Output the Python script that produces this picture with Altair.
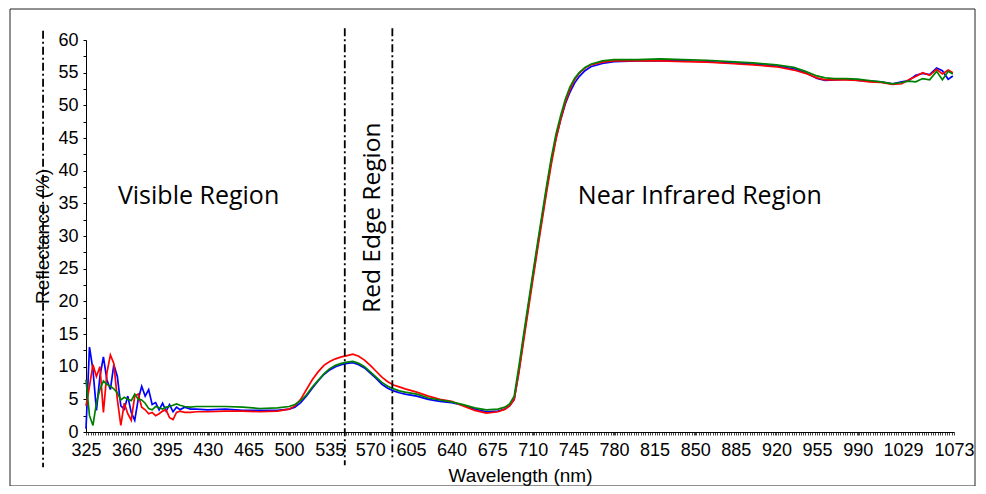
import altair as alt
import pandas as pd

# ---- data ----
wavelength = [325, 328, 331, 334, 337, 340, 343, 346, 349, 352, 355, 358, 361, 364, 367, 370,
              373, 376, 379, 382, 385, 388, 391, 394, 397, 400, 403, 406, 410, 415, 420,
              430, 445, 460, 475, 490, 500,
              505, 510, 515, 520, 525, 530, 535, 540, 545, 550, 555, 560, 565, 570, 575, 580, 585, 590, 595, 600,
              610, 620, 630, 640, 650, 660, 670, 680,
              686, 690, 694, 698, 702, 706, 710, 714, 718, 722, 726, 730, 734, 738, 742, 746, 750,
              755, 760, 770, 780,
              800, 820, 840, 860, 880, 900, 920,
              935, 945, 955, 962, 970, 980, 990,
              1000, 1010, 1020,
              1028, 1034, 1040, 1046, 1052, 1058, 1063, 1068, 1072]

blue = [0.5, 13.0, 9.5, 3.3, 8.5, 11.5, 8.0, 6.5, 10.3, 8.5, 4.0, 3.5, 5.5, 3.0, 1.8, 5.0,
        7.0, 5.5, 6.5, 4.2, 4.5, 3.4, 4.4, 3.2, 4.2, 3.1, 3.8, 3.4, 3.8, 3.5, 3.5,
        3.4, 3.5, 3.3, 3.3, 3.3, 3.5,
        3.8, 4.5, 5.5, 6.7, 7.8, 8.8, 9.5, 10.0, 10.3, 10.5, 10.6, 10.3, 9.8, 9.0, 8.2, 7.3, 6.7, 6.3, 6.0, 5.8,
        5.5, 5.0, 4.7, 4.5, 4.1, 3.5, 3.1, 3.2,
        3.5, 4.0, 5.0, 9.3, 14.2, 19.0, 23.7, 28.3, 32.8, 37.3, 41.5, 45.0, 47.8, 50.2, 52.0, 53.4, 54.4,
        55.3, 55.9, 56.4, 56.7,
        56.8, 56.8, 56.8, 56.7, 56.5, 56.3, 56.0,
        55.6, 55.0, 54.1, 53.8, 53.9, 54.0, 53.8,
        53.7, 53.6, 53.3,
        53.6, 53.8, 54.6, 54.9, 54.7, 55.7, 55.3, 54.0, 54.5]

red = [4.0, 7.0, 10.3, 8.5, 10.0, 3.0, 9.0, 11.8, 10.5, 5.0, 1.0, 4.4, 2.8, 1.8, 5.5, 5.8,
       3.8, 3.4, 2.8, 3.0, 2.5, 2.8, 3.2, 3.4, 2.2, 1.9, 3.0, 3.2, 3.0, 3.0, 3.1,
       3.1, 3.2, 3.2, 3.1, 3.2, 3.5,
       4.0, 5.0, 6.5, 8.0, 9.2, 10.2, 10.8, 11.2, 11.5, 11.7, 11.9, 11.6, 11.0, 10.2, 9.3, 8.4, 7.7, 7.2, 6.9, 6.6,
       6.1, 5.5, 5.0, 4.7, 4.0, 3.3, 2.9, 3.1,
       3.5, 4.0, 5.0, 9.0, 13.8, 18.5, 23.2, 27.8, 32.3, 36.8, 41.0, 44.8, 47.8, 50.4, 52.4, 53.9, 54.9,
       55.7, 56.2, 56.6, 56.8,
       56.8, 56.8, 56.7, 56.6, 56.4, 56.2, 55.9,
       55.4, 54.9, 54.2, 53.9, 53.9, 53.9, 53.8,
       53.6, 53.5, 53.2,
       53.3, 53.9, 54.4, 55.0, 54.6, 55.5, 54.8, 55.4, 55.0]

green = [8.0, 2.5, 1.0, 4.5, 6.5, 7.8, 7.3, 7.0, 6.6, 6.0, 4.9, 5.3, 5.0, 4.8, 5.8, 5.0,
         4.9, 4.4, 3.6, 3.4, 3.9, 3.7, 3.5, 3.8, 3.9, 4.1, 4.3, 4.1, 3.9, 3.8, 3.9,
         3.9, 3.9, 3.8, 3.6, 3.7, 3.9,
         4.2, 4.8, 5.7, 6.9, 7.9, 8.9, 9.7, 10.2, 10.5, 10.7, 10.8, 10.5, 10.0, 9.2, 8.4, 7.6, 7.0, 6.6, 6.3, 6.1,
         5.8, 5.2, 4.9, 4.6, 4.2, 3.7, 3.4, 3.5,
         3.8, 4.3, 5.5, 10.0, 14.8, 19.5, 24.2, 28.8, 33.3, 37.8, 42.0, 45.6, 48.4, 50.9, 52.8, 54.1, 55.0,
         55.8, 56.3, 56.8, 57.0,
         57.0, 57.1, 57.0, 56.9, 56.7, 56.5, 56.2,
         55.8, 55.2, 54.5, 54.2, 54.1, 54.1, 54.0,
         53.8, 53.6, 53.3,
         53.5, 53.7, 53.6, 54.1, 53.9, 55.2, 53.9, 55.2, 54.8]

series_names = ["Blue", "Red", "Green"]
series_colors = ["#0000ff", "#ff0000", "#008000"]

x_label_values = [325, 360, 395, 430, 465, 500, 535, 570, 605, 640, 675, 710, 745, 780,
                  815, 850, 885, 920, 955, 990, 1029, 1073]
y_tick_values = [v * 2.5 for v in range(0, 25)]

# region separators (wavelength, top, bottom in reflectance units)
sep_nm = [288, 548, 589]
sep_top = [61.4, 61.8, 61.8]
sep_bottom = [-5.4, -5.1, -4.0]

region_text = ["Visible Region", "Near Infrared Region"]
region_nm = [422, 854]
region_val = [36.1, 36.1]
rotated_text = ["Red Edge Region"]
rotated_nm = [572.5]
rotated_val = [32.8]

assert len(wavelength) == len(blue) == len(red) == len(green)

# ---- build chart ----
minor_ticks = sorted(set(list(range(325, 1074, 2)) + x_label_values))
label_expr = "indexof([" + ",".join(str(v) for v in x_label_values) + "], datum.value) >= 0 ? datum.label : ''"

x_scale = alt.Scale(domain=[325, 1073], nice=False, zero=False)
y_scale = alt.Scale(domain=[0, 60], nice=False, zero=True)

x_axis = alt.Axis(values=minor_ticks, labelExpr=label_expr, format="d", grid=False,
                  tickSize=3, labelPadding=6, labelFlush=False, labelOverlap=False,
                  labelFont="Liberation Sans", labelFontSize=18, labelColor="black",
                  domainColor="black", tickColor="#444444",
                  title="Wavelength (nm)", titleFont="Liberation Sans", titleFontSize=19,
                  titleFontWeight="normal", titleColor="black", titleY=43, titleBaseline="middle")
y_axis = alt.Axis(values=y_tick_values, labelExpr="datum.value % 5 == 0 ? datum.label : ''",
                  grid=False, tickSize=3, labelPadding=5, labelFlush=False, labelOverlap=False,
                  labelFont="Liberation Sans", labelFontSize=18, labelColor="black",
                  domainColor="black", tickColor="black",
                  title="Reflectance (%)", titleFont="Liberation Sans", titleFontSize=19,
                  titleFontWeight="normal", titleColor="black", titleX=-44, titleBaseline="middle")


def X(field):
    return alt.X(field, scale=x_scale, axis=x_axis)


def Y(field):
    return alt.Y(field, scale=y_scale, axis=y_axis)


layers = []
for name, color, vals in zip(series_names, series_colors, [blue, red, green]):
    df = pd.DataFrame({"wavelength": wavelength, "reflectance": vals})
    layers.append(alt.Chart(df).mark_line(color=color, strokeWidth=1.7).encode(
        x=X("wavelength:Q"), y=Y("reflectance:Q")))

sep_df = pd.DataFrame({"wavelength": sep_nm, "top": sep_top, "bottom": sep_bottom})
seps = alt.Chart(sep_df).mark_rule(color="black", strokeWidth=1.8, strokeDash=[8, 3, 2, 3], clip=False).encode(
    x=X("wavelength:Q"), y=Y("top:Q"), y2="bottom:Q",
)

txt_df = pd.DataFrame({"wavelength": region_nm, "reflectance": region_val, "label": region_text})
texts = alt.Chart(txt_df).mark_text(font="Open Sans", fontSize=25, color="black",
                                    align="center", baseline="middle").encode(
    x=X("wavelength:Q"), y=Y("reflectance:Q"), text="label:N",
)

rot_df = pd.DataFrame({"wavelength": rotated_nm, "reflectance": rotated_val, "label": rotated_text})
rot_texts = alt.Chart(rot_df).mark_text(font="Open Sans", fontSize=24.5, color="black", angle=270,
                                        align="center", baseline="middle").encode(
    x=X("wavelength:Q"), y=Y("reflectance:Q"), text="label:N",
)

frame = alt.Chart(alt.Data(values=[{}])).mark_rect(fillOpacity=0, stroke="#222222", strokeWidth=1,
                                                   clip=False).encode(
    x=alt.value(-76), x2=alt.value(889), y=alt.value(-31), y2=alt.value(446)
)

chart = alt.layer(*layers, seps, texts, rot_texts, frame).properties(
    width=868, height=392,
    background="white",
    autosize=alt.AutoSizeParams(type="none"),
    padding={"left": 78, "top": 32, "right": 24, "bottom": 54},
).configure_view(strokeWidth=0)

chart.save("out.html", embed_options={"renderer": "svg", "actions": False})
